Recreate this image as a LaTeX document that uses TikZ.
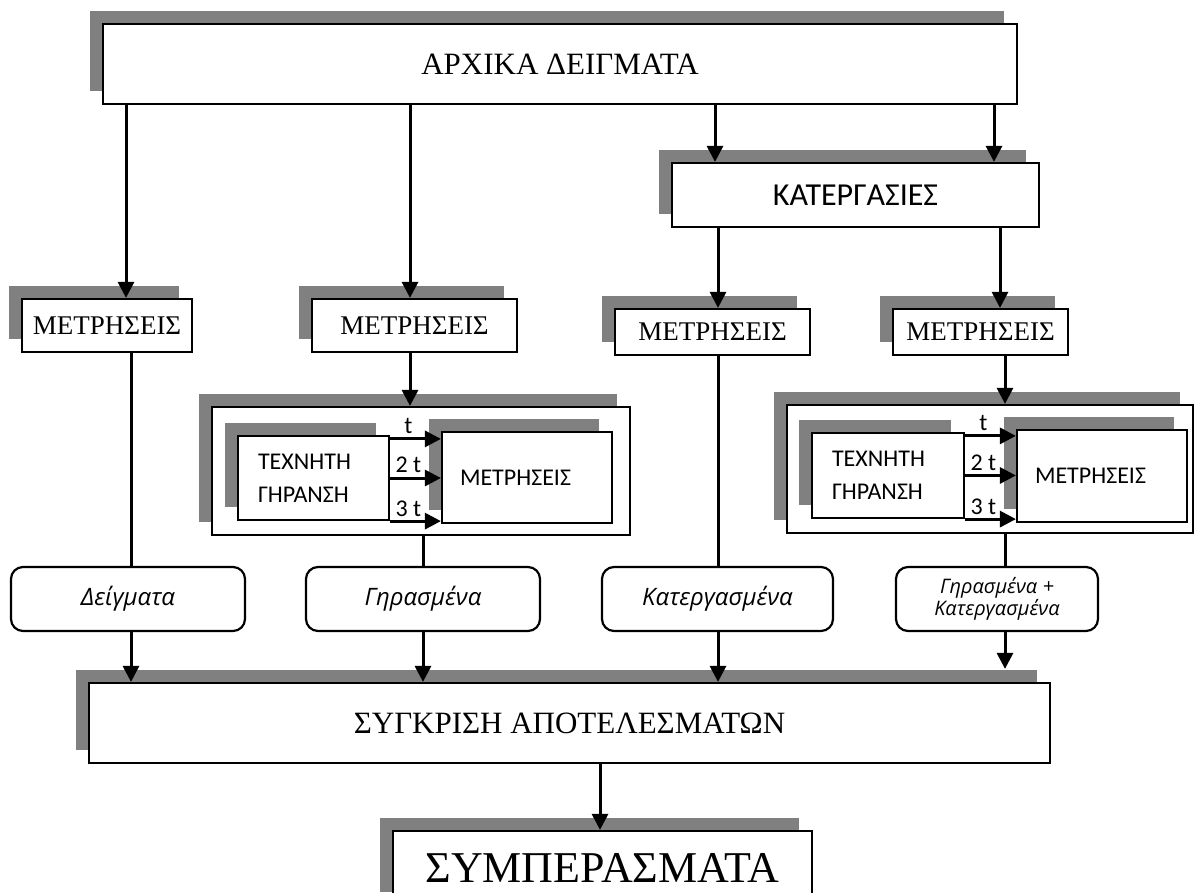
\documentclass[tikz,border=0pt]{standalone}
\usepackage{fontspec}
\setmainfont{Liberation Serif}
\newfontfamily\calibri{Carlito}
\newfontfamily\opensans{Open Sans}
\usetikzlibrary{arrows.meta,shadows}
\tikzset{
  box/.style     = { draw, fill=white, line width=2.2pt, inner sep=0pt,
                     general shadow={fill=black!50, shadow xshift=-13pt, shadow yshift=13pt} },
  tag/.style     = { draw, fill=white, line width=2.2pt, inner sep=0pt, rounded corners=12pt },
  boxsize/.style 2 args = { minimum width=#1pt, minimum height=#2pt },
  arr/.style     = { line width=3pt, -{Triangle[width=16pt,length=16pt]} },
  link/.style    = { line width=3pt },
  bigtext/.style = { font=\fontsize{31}{36}\selectfont },
  midtext/.style = { font=\fontsize{27}{30}\selectfont },
  sanstext/.style = { font=\calibri\fontsize{24}{33}\selectfont },
  notetext/.style = { font=\opensans\itshape\fontsize{24}{28}\selectfont }
}
\begin{document}
\begin{tikzpicture}[x=1pt, y=-1pt]
  \useasboundingbox (0,0) rectangle (1194,893);
  \clip (0,0) rectangle (1194,893);
  % Draw the main boxes
  \node[box, boxsize={914}{80}, bigtext] (start) at (560,64) {ΑΡΧΙΚΑ ΔΕΙΓΜΑΤΑ};
  \node[box, boxsize={367}{64}, font=\calibri\fontsize{32}{36}\selectfont] (treat) at (855.5,195) {ΚΑΤΕΡΓΑΣΙΕΣ};
  \node[box, boxsize={170}{53}, midtext] (meas1) at (107,325.5) {ΜΕΤΡΗΣΕΙΣ};
  \node[box, boxsize={205}{53}, midtext] (meas2) at (414.5,325.5) {ΜΕΤΡΗΣΕΙΣ};
  \node[box, boxsize={195}{46}, midtext] (meas3) at (712.5,332) {ΜΕΤΡΗΣΕΙΣ};
  \node[box, boxsize={175}{46}, midtext] (meas4) at (980.5,332) {ΜΕΤΡΗΣΕΙΣ};
  % Draw the ageing blocks
  \node[box, boxsize={418}{128}] (age1) at (421,471) {};
  \node[box, boxsize={151}{84}, sanstext, align=left, text width=111pt, inner xsep=20pt] (art1) at (313.5,478) {ΤΕΧΝΗΤΗ\\ΓΗΡΑΝΣΗ};
  \node[box, boxsize={170}{91}, sanstext, align=left, text width=134pt, inner xsep=18pt] (sub1) at (527,477.5) {ΜΕΤΡΗΣΕΙΣ};
  \node[box, boxsize={406}{128}] (age2) at (990,469) {};
  \node[box, boxsize={152}{85}, sanstext, align=left, text width=112pt, inner xsep=20pt] (art2) at (888,475.5) {ΤΕΧΝΗΤΗ\\ΓΗΡΑΝΣΗ};
  \node[box, boxsize={170}{92}, sanstext, align=left, text width=134pt, inner xsep=18pt] (sub2) at (1102,476) {ΜΕΤΡΗΣΕΙΣ};
  \draw[arr] ([yshift=-4pt]art1.north east) -- ([yshift=-4pt]art1.north east -| sub1.west) node[pos=0.36, above, sanstext] {t};
  \draw[arr] (art1.east) -- (art1.east -| sub1.west) node[pos=0.36, above, sanstext] {2 t};
  \draw[arr] (art1.south east) -- (art1.south east -| sub1.west) node[pos=0.36, above, sanstext] {3 t};
  \draw[arr] ([yshift=-4pt]art2.north east) -- ([yshift=-4pt]art2.north east -| sub2.west) node[pos=0.36, above, sanstext] {t};
  \draw[arr] (art2.east) -- (art2.east -| sub2.west) node[pos=0.36, above, sanstext] {2 t};
  \draw[arr] (art2.south east) -- (art2.south east -| sub2.west) node[pos=0.36, above, sanstext] {3 t};
  % Draw the sample tags
  \node[tag, boxsize={234}{64}, notetext] (tag1) at (128,599) {Δείγματα};
  \node[tag, boxsize={234}{64}, notetext] (tag2) at (423,599) {Γηρασμένα};
  \node[tag, boxsize={231}{64}, notetext] (tag3) at (717.5,599) {Κατεργασμένα};
  \node[tag, boxsize={202}{64}, align=center, font=\opensans\itshape\fontsize{20}{19}\selectfont] (tag4) at (997,599) {Γηρασμένα +\\Κατεργασμένα};
  % Draw comparison and conclusions
  \node[box, boxsize={961}{80}, bigtext] (cmp) at (569.5,723) {ΣΥΓΚΡΙΣΗ ΑΠΟΤΕΛΕΣΜΑΤΩΝ};
  \node[box, boxsize={419}{74}, font=\fontsize{44}{48}\selectfont] (concl) at (602.5,868) {ΣΥΜΠΕΡΑΣΜΑΤΑ};
  % Columns of the connectors
  \coordinate (colA) at (126,0);
  \coordinate (colB) at (131,0);
  \coordinate (colC) at (410,0);
  \coordinate (colD) at (423,0);
  \coordinate (colE) at (715,0);
  \coordinate (colF) at (718,0);
  \coordinate (colG) at (994,0);
  \coordinate (colH) at (1000,0);
  \coordinate (colI) at (1005,0);
  \coordinate (colJ) at (600,0);
  % Draw connectors
  \draw[arr] (start.south -| colA) -- (meas1.north -| colA);
  \draw[arr] (start.south -| colC) -- (meas2.north -| colC);
  \draw[arr] (start.south -| colE) -- (treat.north -| colE);
  \draw[arr] (start.south -| colG) -- (treat.north -| colG);
  \draw[arr] (treat.south -| colF) -- (meas3.north -| colF);
  \draw[arr] (treat.south -| colH) -- (meas4.north -| colH);
  \draw[link] (meas1.south -| colB) -- (tag1.north -| colB);
  \draw[arr] (meas2.south -| colC) -- (age1.north -| colC);
  \draw[link] (age1.south -| colD) -- (tag2.north -| colD);
  \draw[link] (meas3.south -| colF) -- (tag3.north -| colF);
  \draw[arr] (meas4.south -| colI) -- (age2.north -| colI);
  \draw[link] (age2.south -| colI) -- (tag4.north -| colI);
  \draw[arr] (tag1.south -| colB) -- (cmp.north -| colB);
  \draw[arr] (tag2.south -| colD) -- (cmp.north -| colD);
  \draw[arr] (tag3.south -| colF) -- (cmp.north -| colF);
  \draw[arr] (tag4.south -| colI) -- ([yshift=13pt]cmp.north -| colI);
  \draw[arr] (cmp.south -| colJ) -- (concl.north -| colJ);
\end{tikzpicture}
\end{document}
